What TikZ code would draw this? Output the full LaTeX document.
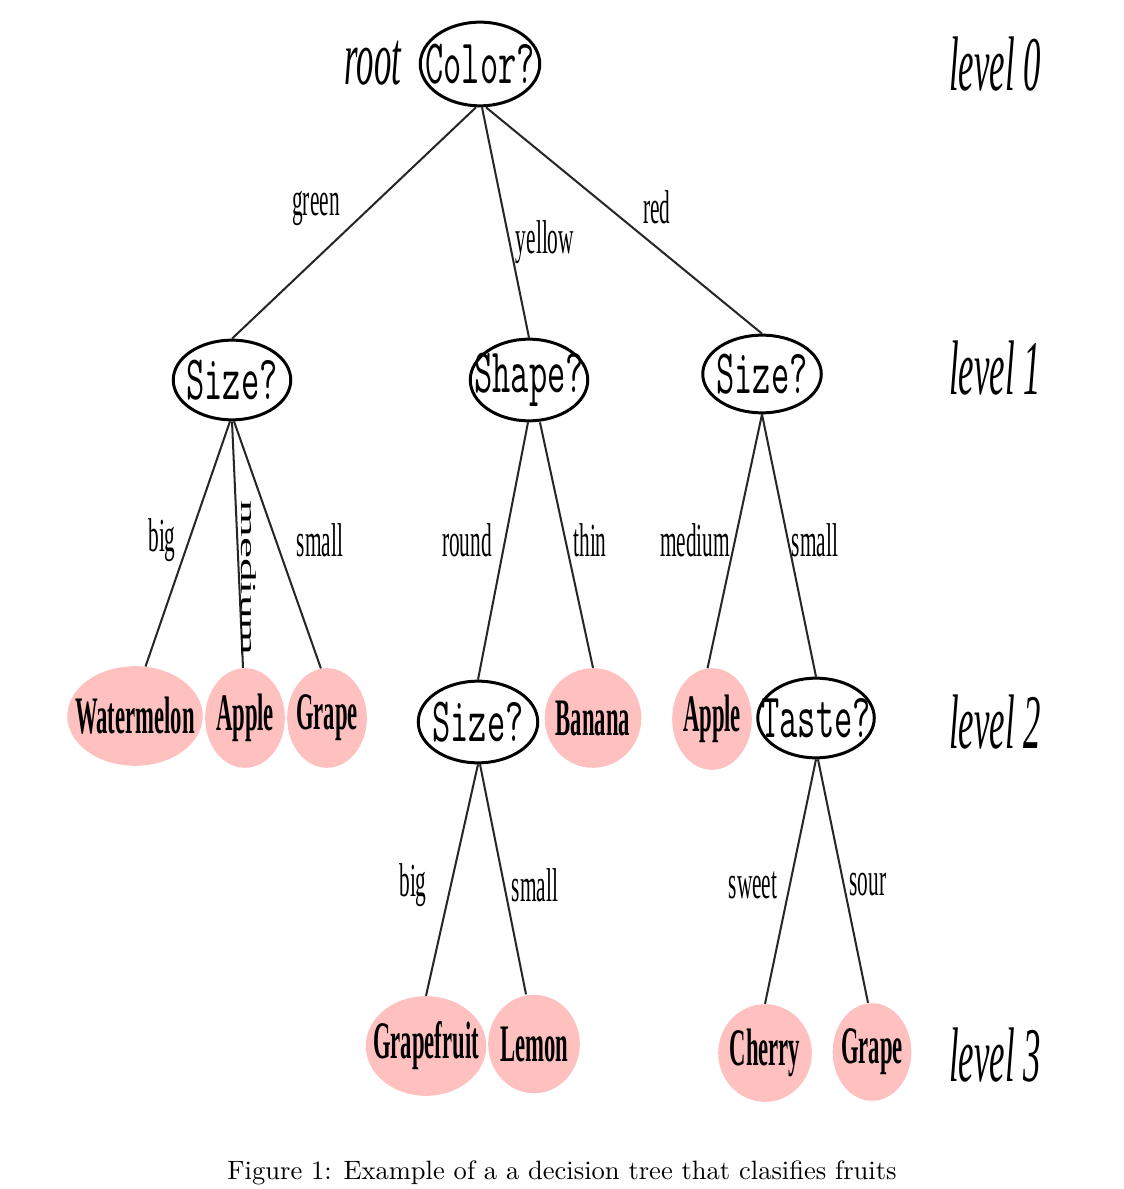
\documentclass[tikz,border=0pt]{standalone}
\usepackage{fontspec}
\usepackage{graphicx}
\newfontfamily\tnr{Liberation Serif}
\usetikzlibrary{shapes.geometric}
\definecolor{fruitpink}{RGB}{255,192,192}
\newcommand{\sqz}[1]{\makebox[0pt]{\scalebox{0.45}[1]{#1}}}
\newcommand{\tsqz}[1]{\makebox[0pt]{\scalebox{0.56}[1]{#1}}}
\newcommand{\fsqz}[1]{\makebox[0pt]{\scalebox{0.43}[1]{#1}}}
\newcommand{\vsqz}[1]{\scalebox{1}[0.45]{#1}}
\def\px{0.5669pt}
\begin{document}
\begin{tikzpicture}[x=0.02cm,y=-0.02cm,
  question/.style={ellipse, draw, line width=1.7pt, inner sep=0pt, font=\fontsize{36}{40}\selectfont\ttfamily},
  fruit/.style={ellipse, fill=fruitpink, inner sep=0pt, font=\fontsize{30}{34}\selectfont\tnr\bfseries},
  edgelabel/.style={font=\fontsize{27}{30}\selectfont\tnr, inner sep=0pt},
  levellabel/.style={font=\fontsize{44}{50}\selectfont\tnr\itshape, inner sep=0pt},
  branch/.style={line width=1.15pt, draw=black!85}
]
\useasboundingbox (0,0) rectangle (1124,1189);
% question nodes
\node[question, minimum width=120*\px, minimum height=84*\px] (color) at (480,64) {\tsqz{Color?}};
\node[question, minimum width=118*\px, minimum height=80*\px] (sizeA) at (232,380) {\tsqz{Size?}};
\node[question, minimum width=118*\px, minimum height=82*\px] (shape) at (529,380) {\tsqz{Shape?}};
\node[question, minimum width=119*\px, minimum height=78*\px] (sizeB) at (762,374) {\tsqz{Size?}};
\node[question, minimum width=120*\px, minimum height=82*\px] (sizeC) at (478,722) {\tsqz{Size?}};
\node[question, minimum width=117*\px, minimum height=80*\px] (taste) at (816,718) {\tsqz{Taste?}};
% fruit leaves
\node[fruit, minimum width=136*\px, minimum height=100*\px] (watermelon) at (135,716) {\fsqz{Watermelon}};
\node[fruit, minimum width=80*\px, minimum height=100*\px] (appleA) at (245,718) {\fsqz{Apple}};
\node[fruit, minimum width=80*\px, minimum height=100*\px] (grapeA) at (327,718) {\fsqz{Grape}};
\node[fruit, minimum width=97*\px, minimum height=100*\px] (banana) at (593,718) {\fsqz{Banana}};
\node[fruit, minimum width=80*\px, minimum height=102*\px] (appleB) at (712,719) {\fsqz{Apple}};
\node[fruit, minimum width=121*\px, minimum height=100*\px] (grapefruit) at (426,1046) {\fsqz{Grapefruit}};
\node[fruit, minimum width=92*\px, minimum height=99*\px] (lemon) at (534,1044) {\fsqz{Lemon}};
\node[fruit, minimum width=94*\px, minimum height=98*\px] (cherry) at (765,1053) {\fsqz{Cherry}};
\node[fruit, minimum width=79*\px, minimum height=98*\px] (grapeB) at (872,1052) {\fsqz{Grape}};
% level labels
\node[levellabel] (root) at (373,63) {\sqz{root}};
\node[levellabel] (lv0) at (995,64) {\sqz{level 0}};
\node[levellabel] (lv1) at (995,368) {\sqz{level 1}};
\node[levellabel] (lv2) at (995,722) {\sqz{level 2}};
\node[levellabel] (lv3) at (995,1055) {\sqz{level 3}};
% branches
\draw[branch] ([xshift=-4*\px]color.south) -- (sizeA.north);
\draw[branch] ([xshift=2*\px]color.south) -- (shape.north);
\draw[branch] ([xshift=6*\px]color.south) -- (sizeB.north);
\draw[branch] ([xshift=-2*\px]sizeA.south) -- (watermelon.78);
\draw[branch] (sizeA.south) -- ([xshift=-2*\px]appleA.north);
\draw[branch] ([xshift=2*\px]sizeA.south) -- (grapeA.97);
\draw[branch] ([xshift=-1*\px]shape.south) -- (sizeC.north);
\draw[branch] ([xshift=11*\px]shape.south) -- (banana.north);
\draw[branch] (sizeB.south) -- (appleB.95);
\draw[branch] (sizeB.south) -- (taste.north);
\draw[branch] (sizeC.south) -- (grapefruit.north);
\draw[branch] ([xshift=2*\px]sizeC.south) -- ([xshift=-8*\px]lemon.north);
\draw[branch] (taste.south) -- (cherry.north);
\draw[branch] ([xshift=2*\px]taste.south) -- ([xshift=-4*\px]grapeB.north);
% branch labels
\node[edgelabel] (lgreen) at (316,208) {\sqz{green}};
\node[edgelabel] (lyellow) at (545,242) {\sqz{yellow}};
\node[edgelabel] (lred) at (657,207) {\sqz{red}};
\node[edgelabel] (lbigA) at (162,540) {\sqz{big}};
\node[edgelabel, rotate=-90] (lmediumA) at (249,578) {\vsqz{medium}};
\node[edgelabel] (lsmallA) at (320,540) {\sqz{small}};
\node[edgelabel] (lround) at (467,540) {\sqz{round}};
\node[edgelabel] (lthin) at (590,540) {\sqz{thin}};
\node[edgelabel] (lmediumB) at (695,540) {\sqz{medium}};
\node[edgelabel] (lsmallB) at (815,540) {\sqz{small}};
\node[edgelabel] (lbigC) at (413,885) {\sqz{big}};
\node[edgelabel] (lsmallC) at (535,885) {\sqz{small}};
\node[edgelabel] (lsweet) at (753,885) {\sqz{sweet}};
\node[edgelabel] (lsour) at (868,885) {\sqz{sour}};
% caption
\node[font=\fontsize{10}{12}\selectfont, inner sep=0pt] (caption) at (562,1173) {\scalebox{1.51}{Figure 1: Example of a a decision tree that clasifies fruits}};
\end{tikzpicture}
\end{document}
